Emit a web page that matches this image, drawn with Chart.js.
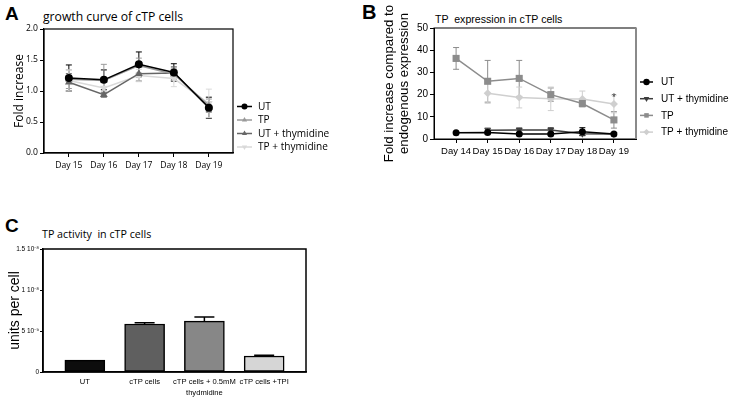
<!DOCTYPE html>
<html>
<head>
<meta charset="utf-8">
<script src="https://cdn.jsdelivr.net/npm/chart.js@4.4.1/dist/chart.umd.min.js"></script>
<style>
  html, body { margin: 0; padding: 0; background: #fff; }
  #page { position: relative; width: 733px; height: 401px; overflow: hidden; background: #fff; }
  .panel { position: absolute; }
  .tag { position: absolute; font-family: "Liberation Sans", Arial, sans-serif; font-weight: bold; line-height: 1; color: #000; }
  .ttl { position: absolute; line-height: 1; color: #000; white-space: pre; }
</style>
</head>
<body>
<div id="page">
  <div class="tag" style="left:5px;top:4px;font-size:19px">A</div>
  <div class="ttl" style="left:43px;top:7.5px;font:12.2px 'Open Sans'">growth curve of cTP cells</div>
  <div class="panel" style="left:0;top:0"><canvas id="CHART_A" width="360" height="200"></canvas></div>

  <div class="tag" style="left:362px;top:1.5px;font-size:20px">B</div>
  <div class="ttl" style="left:435px;top:13.3px;font:10.6px 'Liberation Sans'">TP  expression in cTP cells</div>
  <div class="panel" style="left:360px;top:0"><canvas id="CHART_B" width="373" height="200"></canvas></div>

  <div class="tag" style="left:5px;top:215.5px;font-size:19px">C</div>
  <div class="ttl" style="left:42px;top:226.5px;font:10.7px 'Open Sans'">TP activity  in cTP cells</div>
  <div class="panel" style="left:0;top:200px"><canvas id="CHART_C" width="360" height="201"></canvas></div>
</div>

<script>
// DATA

// panel A - growth curve
const aDays = ['Day 15', 'Day 16', 'Day 17', 'Day 18', 'Day 19'];
const aUT = [1.21, 1.18, 1.43, 1.30, 0.73];
const aUTErr = [0.21, 0.16, 0.20, 0.14, 0.17];
const aTP = [1.19, 1.17, 1.41, 1.27, 0.77];
const aTPErr = [0.15, 0.26, 0.12, 0.10, 0.10];
const aUTThy = [1.14, 0.94, 1.28, 1.29, 0.74];
const aUTThyErr = [0.14, 0.04, 0.12, 0.10, 0.08];
const aTPThy = [1.17, 1.05, 1.25, 1.20, 0.80];
const aTPThyErr = [0.17, 0.10, 0.10, 0.13, 0.23];

// panel B - TP expression
const bDays = ['Day 14', 'Day 15', 'Day 16', 'Day 17', 'Day 18', 'Day 19'];
const bUT = [2.8, 2.9, 2.2, 2.2, 3.3, 2.2];
const bUTErr = [0.3, 0.6, 0.4, 0.4, 1.8, 0.3];
const bUTThy = [null, 3.9, 4.0, 4.1, 2.4, 2.2];
const bUTThyErr = [null, 1.0, 1.0, 1.0, 0.8, 0.3];
const bTP = [36.3, 26.0, 27.3, 20.0, 16.0, 8.6];
const bTPErr = [4.9, 9.4, 8.1, 3.0, 1.5, 3.7];
const bTPThy = [null, 20.6, 18.7, 18.1, 18.0, 15.8];
const bTPThyErr = [null, 4.5, 4.7, 5.3, 3.6, 4.0];
const bStars = ['', '', '', '', '', '*'];

// panel C - TP activity
const cGroups = ['UT', 'cTP cells', ['cTP cells + 0.5mM', 'thydmidine'], 'cTP cells +TPI'];
const cActivity = [1.45e-9, 5.85e-9, 6.2e-9, 1.95e-9];
const cActivityErr = [0, 0.15e-9, 0.5e-9, 0.1e-9];
const cTickValues = [0, 5e-9, 1e-8, 1.5e-8];
const cTickLabels = ['0', '5 10\u207B\u2079', '1 10\u207B\u2078', '1.5 10\u207B\u2078'];

// HELPERS

const toXY = arr => arr.map((v, i) => ({ x: i, y: v }));

function drawMarker(ctx, style, x, y, r, rot) {
    ctx.beginPath();
    if (style === 'rect') {
        const s = r * Math.SQRT1_2;
        ctx.rect(x - s, y - s, 2 * s, 2 * s);
    } else if (style === 'rectRot') {
        ctx.moveTo(x, y - r); ctx.lineTo(x + r, y); ctx.lineTo(x, y + r); ctx.lineTo(x - r, y);
        ctx.closePath();
    } else if (style === 'triangle') {
        let a = (rot || 0) * Math.PI / 180;
        for (let k = 0; k < 3; k++) {
            const px = x + Math.sin(a) * r, py = y - Math.cos(a) * r;
            if (k === 0) ctx.moveTo(px, py); else ctx.lineTo(px, py);
            a += Math.PI * 2 / 3;
        }
        ctx.closePath();
    } else {
        ctx.arc(x, y, r, 0, Math.PI * 2);
    }
    ctx.fill();
}

// box around the plot area
const framePlugin = {
    id: 'frame',
    afterDraw(chart, args, opts) {
        const { ctx, chartArea: a } = chart;
        ctx.save();
        ctx.strokeStyle = '#000';
        ctx.lineWidth = opts.width || 1;
        ctx.strokeRect(a.left, a.top, a.right - a.left, a.bottom - a.top);
        if (opts.rightColor) {
            ctx.strokeStyle = opts.rightColor;
            ctx.lineWidth = opts.rightWidth || 2;
            ctx.beginPath();
            ctx.moveTo(a.right, a.top);
            ctx.lineTo(a.right, a.bottom);
            ctx.stroke();
        }
        ctx.restore();
    }
};

// error bars from dataset.errs
function drawErrorBars(chart, opts) {
    const { ctx } = chart;
    const y = chart.scales.y;
    chart.data.datasets.forEach((ds, i) => {
        if (!ds.errs) return;
        const meta = chart.getDatasetMeta(i);
        ctx.save();
        ctx.strokeStyle = ds.errColor || ds.borderColor;
        ctx.lineWidth = opts.width || 1;
        meta.data.forEach((el, j) => {
            const v = ds.data[j].y, e = ds.errs[j];
            if (v == null) return;
            const x = el.x;
            const top = y.getPixelForValue(v + (e || 0));
            if (e) {
                const bot = opts.upOnly ? y.getPixelForValue(v) : y.getPixelForValue(v - e);
                ctx.beginPath();
                ctx.moveTo(x, top); ctx.lineTo(x, bot);
                ctx.moveTo(x - opts.cap, top); ctx.lineTo(x + opts.cap, top);
                if (!opts.upOnly) { ctx.moveTo(x - opts.cap, bot); ctx.lineTo(x + opts.cap, bot); }
                ctx.stroke();
            }
            if (ds.marks && ds.marks[j]) {
                ctx.fillStyle = '#333';
                ctx.font = '10px "Liberation Sans"';
                ctx.textAlign = 'center';
                ctx.textBaseline = 'alphabetic';
                ctx.fillText(ds.marks[j], x, top + 6);
            }
        });
        ctx.restore();
    });
}

const errorBarPlugin = {
    id: 'errorBars',
    beforeDatasetsDraw(chart, args, opts) { if (!opts.over) drawErrorBars(chart, opts); },
    afterDatasetsDraw(chart, args, opts) { if (opts.over) drawErrorBars(chart, opts); }
};

// legend with line + marker, placed by hand
const sideLegendPlugin = {
    id: 'sideLegend',
    afterDraw(chart, args, o) {
        if (!o.x) return;
        const ctx = chart.ctx;
        ctx.save();
        chart.data.datasets.forEach((ds, i) => {
            const y = o.y + i * o.gap;
            ctx.strokeStyle = ds.borderColor;
            ctx.fillStyle = ds.borderColor;
            ctx.lineWidth = 1.5;
            ctx.beginPath();
            ctx.moveTo(o.x, y);
            ctx.lineTo(o.x + o.len, y);
            ctx.stroke();
            drawMarker(ctx, ds.pointStyle, o.x + o.len / 2, y, o.r, ds.pointRotation);
            ctx.fillStyle = '#000';
            ctx.font = o.font;
            ctx.textAlign = 'left';
            ctx.textBaseline = 'middle';
            ctx.fillText(ds.label, o.x + o.len + o.pad, y + 0.5);
        });
        ctx.restore();
    }
};

function lineSet(label, values, errs, color, style, radius, rot) {
    return {
        label: label,
        data: toXY(values),
        errs: errs,
        borderColor: color,
        backgroundColor: color,
        pointBackgroundColor: color,
        pointBorderColor: color,
        pointBorderWidth: 0,
        pointStyle: style,
        pointRotation: rot || 0,
        pointRadius: radius,
        borderWidth: 1.5,
        tension: 0,
    };
}

function axisTicks(len) {
    return { display: true, drawOnChartArea: false, drawTicks: true, tickLength: len, color: '#000', lineWidth: 1 };
}

// CHART A

const fontA = { family: 'Open Sans', size: 8.6 };

new Chart(document.getElementById('CHART_A'), {
    type: 'line',
    data: {
        datasets: [
            lineSet('UT', aUT, aUTErr, '#000000', 'circle', 4),
            lineSet('TP', aTP, aTPErr, '#9a9a9a', 'triangle', 4.5),
            lineSet('UT + thymidine', aUTThy, aUTThyErr, '#666666', 'triangle', 4.5),
            lineSet('TP + thymidine', aTPThy, aTPThyErr, '#d9d9d9', 'triangle', 4.5, 180),
        ],
    },
    options: {
        responsive: false,
        animation: false,
        devicePixelRatio: 1,
        layout: { padding: { left: 0, top: 29, right: 127, bottom: 25 } },
        scales: {
            x: {
                type: 'linear', min: -0.71, max: 4.69, offset: false,
                afterBuildTicks: s => { s.ticks = aDays.map((d, i) => ({ value: i })); },
                afterFit: s => { s.height = 22; },
                grid: axisTicks(4),
                border: { display: true, color: '#000', width: 1.2 },
                ticks: { callback: (v, i) => aDays[i], font: fontA, color: '#000', padding: 3, maxRotation: 0, autoSkip: false },
            },
            y: {
                min: 0, max: 2,
                afterFit: s => { s.width = 44; },
                grid: axisTicks(4),
                border: { display: true, color: '#000', width: 1.2 },
                ticks: { stepSize: 0.5, callback: v => v.toFixed(1), font: fontA, color: '#000', padding: 2 },
                title: { display: true, text: 'Fold increase', color: '#000', font: { family: 'Open Sans', size: 12 }, padding: { top: 12, bottom: 0 } },
            },
        },
        plugins: {
            legend: { display: false },
            tooltip: { enabled: false },
            frame: { width: 1.2 },
            errorBars: { cap: 3, width: 1 },
            sideLegend: { x: 237, y: 106.5, gap: 13.5, len: 15, r: 3, pad: 6, font: '10.1px "Open Sans"' },
        },
    },
    plugins: [framePlugin, errorBarPlugin, sideLegendPlugin],
});

// CHART B

const fontB = { family: 'Liberation Sans', size: 9.5 };

new Chart(document.getElementById('CHART_B'), {
    type: 'line',
    data: {
        datasets: [
            lineSet('UT', bUT, bUTErr, '#000000', 'circle', 3.5),
            lineSet('UT + thymidine', bUTThy, bUTThyErr, '#3d3d3d', 'triangle', 4, 180),
            lineSet('TP', bTP, bTPErr, '#8c8c8c', 'rect', 5),
            Object.assign(lineSet('TP + thymidine', bTPThy, bTPThyErr, '#cfcfcf', 'rectRot', 4), { marks: bStars }),
        ],
    },
    options: {
        responsive: false,
        animation: false,
        devicePixelRatio: 1,
        layout: { padding: { left: 0, top: 28, right: 97, bottom: 39 } },
        scales: {
            x: {
                type: 'linear', min: -0.7, max: 5.7, offset: false,
                afterBuildTicks: s => { s.ticks = bDays.map((d, i) => ({ value: i })); },
                afterFit: s => { s.height = 22; },
                grid: axisTicks(4),
                border: { display: true, color: '#000', width: 1 },
                ticks: { callback: (v, i) => bDays[i], font: fontB, color: '#000', padding: 3, maxRotation: 0, autoSkip: false },
            },
            y: {
                min: 0, max: 50,
                afterFit: s => { s.width = 74; },
                grid: axisTicks(4),
                border: { display: true, color: '#000', width: 1 },
                ticks: { stepSize: 10, font: { family: 'Liberation Sans', size: 10 }, color: '#000', padding: 2 },
                title: {
                    display: true, text: ['Fold increase compared to', 'endogenous expression'], color: '#000',
                    font: { family: 'Liberation Sans', size: 13.3, lineHeight: 1.13 }, padding: { top: 21.5, bottom: 0 },
                },
            },
        },
        plugins: {
            legend: { display: false },
            tooltip: { enabled: false },
            frame: { width: 1, rightColor: '#8a8a8a', rightWidth: 2 },
            errorBars: { cap: 3, width: 1 },
            sideLegend: { x: 280, y: 82, gap: 16.7, len: 13, r: 3.2, pad: 8, font: '10px "Liberation Sans"' },
        },
    },
    plugins: [framePlugin, errorBarPlugin, sideLegendPlugin],
});

// CHART C

new Chart(document.getElementById('CHART_C'), {
    type: 'bar',
    data: {
        datasets: [{
            label: 'TP activity',
            data: toXY(cActivity),
            errs: cActivityErr,
            errColor: '#000',
            backgroundColor: ['#0d0d0d', '#5f5f5f', '#878787', '#d6d6d6'],
            borderColor: '#000',
            borderWidth: 1.5,
            borderSkipped: false,
            barThickness: 40,
        }],
    },
    options: {
        responsive: false,
        animation: false,
        devicePixelRatio: 1,
        layout: { padding: { left: 0, top: 49, right: 54, bottom: 1 } },
        scales: {
            x: {
                type: 'linear', min: -0.7, max: 3.7, offset: false,
                afterBuildTicks: s => { s.ticks = cGroups.map((d, i) => ({ value: i })); },
                afterFit: s => { s.height = 28; },
                grid: { display: false, drawTicks: false, tickLength: 0, offset: false },
                border: { display: true, color: '#000', width: 1.5 },
                ticks: { callback: (v, i) => cGroups[i], font: { family: 'Liberation Sans', size: 7.6, lineHeight: 1.5 }, color: '#000', padding: 4, maxRotation: 0, autoSkip: false },
            },
            y: {
                min: 0, max: 1.5e-8,
                afterBuildTicks: s => { s.ticks = cTickValues.map(v => ({ value: v })); },
                afterFit: s => { s.width = 43; },
                grid: axisTicks(3),
                border: { display: true, color: '#000', width: 1.5 },
                ticks: { callback: (v, i) => cTickLabels[i], font: { family: 'Liberation Sans', size: 6.5 }, color: '#000', padding: 1 },
                title: { display: true, text: 'units per cell', color: '#000', font: { family: 'Liberation Sans', size: 14 }, padding: { top: 7, bottom: 0 } },
            },
        },
        plugins: {
            legend: { display: false },
            tooltip: { enabled: false },
            frame: { width: 1.5 },
            errorBars: { cap: 10, width: 1.5, upOnly: true, over: true },
        },
    },
    plugins: [framePlugin, errorBarPlugin],
});
</script>
</body>
</html>
